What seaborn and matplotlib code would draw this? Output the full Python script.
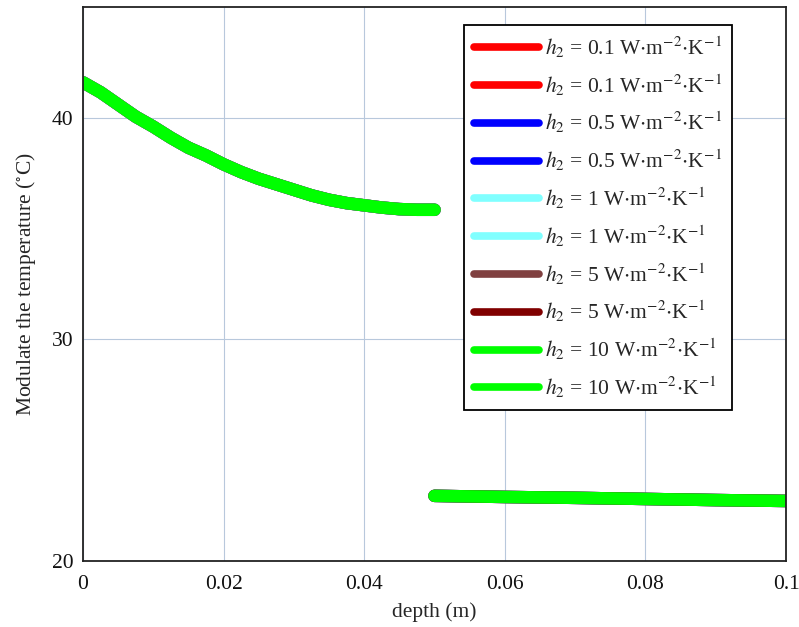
import numpy as np
import pandas as pd
import matplotlib
matplotlib.use("Agg")
import matplotlib.pyplot as plt
import seaborn as sns

sns.set_style("white")
plt.rcParams['font.family'] = ['Liberation Serif', 'DejaVu Serif']
plt.rcParams['mathtext.fontset'] = 'stix'

# depth (m) and temperature (°C), segment 1 (layer 1) and segment 2 (layer 2)
depth1 = [0.0, 0.0025, 0.005, 0.0075, 0.01, 0.0125, 0.015, 0.0175, 0.02, 0.0225,
          0.025, 0.0275, 0.03, 0.0325, 0.035, 0.0375, 0.04, 0.0425, 0.045, 0.0475, 0.05]
temp1 = [41.6, 41.15, 40.6, 40.05, 39.6, 39.1, 38.65, 38.3, 37.9, 37.55,
         37.25, 37.0, 36.75, 36.5, 36.3, 36.15, 36.05, 35.95, 35.88, 35.85, 35.85]
depth2 = [0.05, 0.06, 0.07, 0.08, 0.09, 0.1]
temp2 = [22.94, 22.89, 22.85, 22.80, 22.75, 22.71]

h2_values = ["0.1", "0.1", "0.5", "0.5", "1", "1", "5", "5", "10", "10"]
colors = ["#ff0000", "#ff0000", "#0000ff", "#0000ff", "#80ffff", "#80ffff",
          "#804040", "#800000", "#00ff00", "#00ff00"]
segments = [1, 2, 1, 2, 1, 2, 1, 2, 1, 2]

fig = plt.figure(figsize=(7.99, 6.27), dpi=100)
ax = fig.add_axes([83/799, 1-561/627, (786-83)/799, (561-7)/627])

for h, c, s in zip(h2_values, colors, segments):
    if s == 1:
        df = pd.DataFrame({"depth": depth1, "temp": temp1})
    else:
        df = pd.DataFrame({"depth": depth2, "temp": temp2})
    label = r"$h_2$ = " + h + r" W$\cdot$m$^{-2}$$\cdot$K$^{-1}$"
    sns.lineplot(data=df, x="depth", y="temp", color=c, linewidth=9,
                 label=label, ax=ax, sort=False, solid_capstyle="round")

ax.set_xlim(0, 0.1)
ax.set_ylim(20, 45)
ax.set_xticks([0, 0.02, 0.04, 0.06, 0.08, 0.1])
ax.set_xticklabels(["0", "0.02", "0.04", "0.06", "0.08", "0.1"])
ax.set_yticks([20, 30, 40])
ax.tick_params(axis="both", length=0, labelsize=15.5, colors="#111111")
ax.tick_params(axis="x", pad=10)
ax.tick_params(axis="y", pad=7)
ax.grid(True, color="#b8c8dc", linewidth=0.8)
ax.set_axisbelow(True)
for sp in ax.spines.values():
    sp.set_color("#222222")
    sp.set_linewidth(1.3)
ax.set_xlabel("depth (m)", fontsize=15.5, labelpad=6)
ax.set_ylabel(r"Modulate the temperature ($^{\circ}$C)", fontsize=15.5, labelpad=10)

leg = ax.legend(loc="upper right", bbox_to_anchor=(0.923, 0.968), fontsize=15.5,
                frameon=True, fancybox=False, edgecolor="black", framealpha=1,
                handlelength=3.0, labelspacing=0.57, borderpad=0.45, handletextpad=0.3,
                borderaxespad=0)
leg.get_frame().set_linewidth(1.3)
for line in leg.get_lines():
    line.set_linewidth(5.5)
    line.set_solid_capstyle("round")

fig.savefig("out.png", dpi=100)
